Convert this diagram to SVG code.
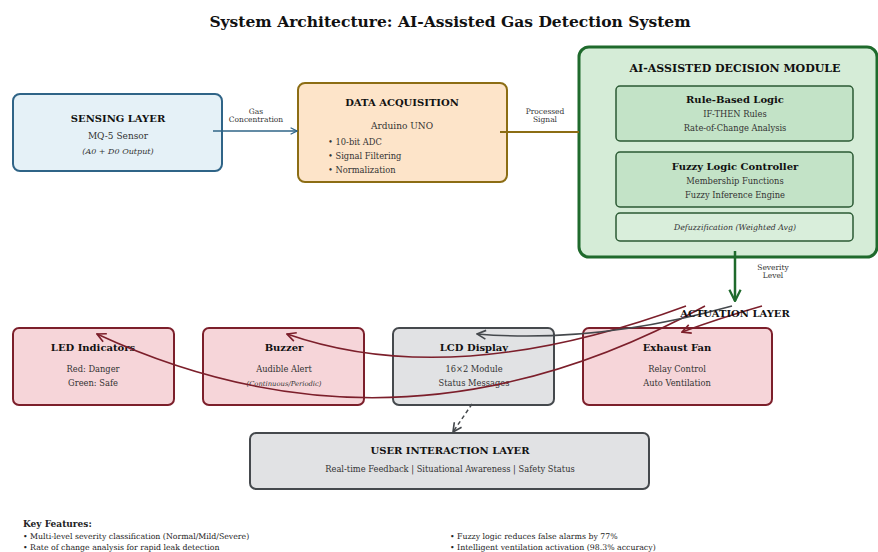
<svg xmlns="http://www.w3.org/2000/svg" width="878" height="552" viewBox="0 0 878 552">
  <style>
    text { font-family: "DejaVu Serif", "Liberation Serif", serif; text-anchor: middle; }
    .title { font-size: 15.5px; font-weight: bold; fill: #111; }
    .h { font-size: 10px; font-weight: bold; fill: #111; }
    .hb { font-size: 11px; font-weight: bold; fill: #111; }
    .t { font-size: 9px; fill: #333; }
    .s { font-size: 8.3px; fill: #333; }
    .ti { font-size: 8px; font-style: italic; fill: #333; }
    .lbl { font-size: 7.5px; fill: #333; }
    .kf { font-size: 7.8px; fill: #222; text-anchor: start; }
    .sense { fill: #e5f1f7; stroke: #2f6487; stroke-width: 2; }
    .acq { fill: #fde4c9; stroke: #8c6d14; stroke-width: 2; }
    .ai { fill: #d5ecd7; stroke: #1f6a2c; stroke-width: 3; }
    .inner { fill: #c3e3c7; stroke: #2b5a34; stroke-width: 1.5; }
    .inner2 { fill: #d9eedb; stroke: #2b5a34; stroke-width: 1.5; }
    .act { fill: #f6d5d9; stroke: #7c1f2b; stroke-width: 2; }
    .gray { fill: #e1e2e4; stroke: #45494d; stroke-width: 2; }
    .red { fill: none; stroke: #7c1f2b; stroke-width: 1.5; }
  </style>
  <defs>
    <marker id="hBlue" viewBox="0 0 10 10" refX="9" refY="5" markerWidth="8" markerHeight="8" markerUnits="userSpaceOnUse" orient="auto">
      <path d="M1,1 L9,5 L1,9" fill="none" stroke="#2f6487" stroke-width="1.6"/>
    </marker>
    <marker id="hRed" viewBox="0 0 10 10" refX="9" refY="5" markerWidth="11" markerHeight="11" markerUnits="userSpaceOnUse" orient="auto">
      <path d="M1,1 L9,5 L1,9" fill="none" stroke="#7c1f2b" stroke-width="1.5"/>
    </marker>
    <marker id="hGray" viewBox="0 0 10 10" refX="9" refY="5" markerWidth="11" markerHeight="11" markerUnits="userSpaceOnUse" orient="auto">
      <path d="M1,1 L9,5 L1,9" fill="none" stroke="#45494d" stroke-width="1.5"/>
    </marker>
    <marker id="hGreen" viewBox="0 0 10 10" refX="9" refY="5" markerWidth="14" markerHeight="14" markerUnits="userSpaceOnUse" orient="auto">
      <path d="M1,1 L9,5 L1,9" fill="none" stroke="#1f6a2c" stroke-width="1.6"/>
    </marker>
  </defs>

  <rect width="878" height="552" fill="#ffffff"/>

  <text class="title" x="450" y="27">System Architecture: AI-Assisted Gas Detection System</text>

  <g id="sensing-layer">
    <rect class="sense" x="13" y="94" width="209" height="77" rx="7"/>
    <text class="h" x="118" y="122">SENSING LAYER</text>
    <text class="t" x="118" y="139">MQ-5 Sensor</text>
    <text class="ti" x="118" y="154">(A0 + D0 Output)</text>
  </g>

  <g id="data-acquisition">
    <rect class="acq" x="298" y="83" width="209" height="99" rx="7"/>
    <text class="h" x="402" y="106">DATA ACQUISITION</text>
    <text class="t" x="402" y="129">Arduino UNO</text>
    <text class="s" x="328" y="145" style="text-anchor:start">• 10-bit ADC</text>
    <text class="s" x="328" y="159" style="text-anchor:start">• Signal Filtering</text>
    <text class="s" x="328" y="173" style="text-anchor:start">• Normalization</text>
  </g>

  <g id="decision-module">
    <rect class="ai" x="579" y="47" width="298" height="210" rx="10"/>
    <text class="hb" x="735" y="72">AI-ASSISTED DECISION MODULE</text>
    <g id="rule-based">
      <rect class="inner" x="616" y="86" width="237" height="55" rx="4"/>
      <text class="h" x="735" y="103">Rule-Based Logic</text>
      <text class="s" x="735" y="117">IF-THEN Rules</text>
      <text class="s" x="735" y="131">Rate-of-Change Analysis</text>
    </g>
    <g id="fuzzy-logic">
      <rect class="inner" x="616" y="152" width="237" height="55" rx="4"/>
      <text class="h" x="735" y="170">Fuzzy Logic Controller</text>
      <text class="s" x="735" y="184">Membership Functions</text>
      <text class="s" x="735" y="198">Fuzzy Inference Engine</text>
    </g>
    <g id="defuzzification">
      <rect class="inner2" x="616" y="213" width="237" height="28" rx="4"/>
      <text class="ti" x="735" y="230" style="font-size:7.8px">Defuzzification (Weighted Avg)</text>
    </g>
  </g>

  <g id="led-indicators">
    <rect class="act" x="13" y="328" width="161" height="77" rx="6"/>
    <text class="h" x="93" y="351">LED Indicators</text>
    <text class="s" x="93" y="372">Red: Danger</text>
    <text class="s" x="93" y="386">Green: Safe</text>
  </g>

  <g id="buzzer">
    <rect class="act" x="203" y="328" width="161" height="77" rx="6"/>
    <text class="h" x="284" y="351">Buzzer</text>
    <text class="s" x="284" y="372">Audible Alert</text>
    <text class="ti" x="284" y="386" style="font-size:6.8px">(Continuous/Periodic)</text>
  </g>

  <g id="lcd-display">
    <rect class="gray" x="393" y="328" width="161" height="77" rx="6"/>
    <text class="h" x="474" y="351">LCD Display</text>
    <text class="s" x="474" y="372">16×2 Module</text>
    <text class="s" x="474" y="386">Status Messages</text>
  </g>

  <g id="exhaust-fan">
    <rect class="act" x="583" y="328" width="189" height="77" rx="6"/>
    <text class="h" x="677" y="351">Exhaust Fan</text>
    <text class="s" x="677" y="372">Relay Control</text>
    <text class="s" x="677" y="386">Auto Ventilation</text>
  </g>

  <g id="user-interaction">
    <rect class="gray" x="250" y="433" width="399" height="56" rx="6"/>
    <text class="h" x="450" y="454">USER INTERACTION LAYER</text>
    <text class="s" x="450" y="472">Real-time Feedback | Situational Awareness | Safety Status</text>
  </g>

  <g id="connectors">
    <line x1="213" y1="131" x2="297" y2="131" stroke="#2f6487" stroke-width="1.6" marker-end="url(#hBlue)"/>
    <text class="lbl" x="256" y="114">Gas</text>
    <text class="lbl" x="256" y="122">Concentration</text>

    <line x1="500" y1="132" x2="579" y2="132" stroke="#8c6d14" stroke-width="1.8"/>
    <text class="lbl" x="545" y="114">Processed</text>
    <text class="lbl" x="545" y="122">Signal</text>

    <line x1="735" y1="251" x2="735" y2="301" stroke="#1f6a2c" stroke-width="2.5" marker-end="url(#hGreen)"/>
    <text class="lbl" x="773" y="270">Severity</text>
    <text class="lbl" x="773" y="278">Level</text>

    <path class="red" d="M705,306 Q399,474 97,334" marker-end="url(#hRed)"/>
    <path class="red" d="M686,306 Q453,392 287,334" marker-end="url(#hRed)"/>
    <path d="M732,306 Q595,344 477,334" fill="none" stroke="#45494d" stroke-width="1.5" marker-end="url(#hGray)"/>
    <path class="red" d="M762,306 Q720,318 682,332" marker-end="url(#hRed)"/>
    <line x1="472" y1="404" x2="453" y2="432" stroke="#45494d" stroke-width="1.5" stroke-dasharray="4,3" marker-end="url(#hGray)"/>
  </g>

  <text class="h" x="735" y="317">ACTUATION LAYER</text>

  <g id="key-features">
    <text class="kf" x="23" y="527" style="font-weight:bold;font-size:9px">Key Features:</text>
    <text class="kf" x="23" y="539">• Multi-level severity classification (Normal/Mild/Severe)</text>
    <text class="kf" x="23" y="550">• Rate of change analysis for rapid leak detection</text>
    <text class="kf" x="450" y="539">• Fuzzy logic reduces false alarms by 77%</text>
    <text class="kf" x="450" y="550">• Intelligent ventilation activation (98.3% accuracy)</text>
  </g>
</svg>
